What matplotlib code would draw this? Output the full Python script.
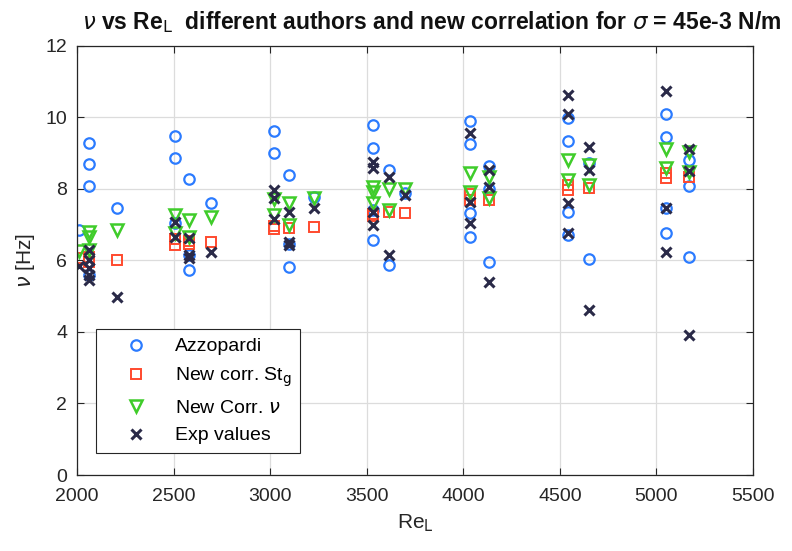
import matplotlib.pyplot as plt

# ========= DATA =========
# Azzopardi correlation
re_azz = [2010, 2060, 2060, 2060, 2060, 2205,
          2510, 2510, 2510, 2580, 2580, 2580, 2695,
          3020, 3020, 3097, 3097, 3097, 3227,
          3530, 3530, 3530, 3530, 3614, 3614, 3700,
          4034, 4034, 4034, 4034, 4134, 4134, 4134,
          4543, 4543, 4543, 4543, 4652, 4652,
          5049, 5049, 5049, 5049, 5170, 5170, 5170]
nu_azz = [6.85, 9.28, 8.68, 8.07, 5.59, 7.47,
          9.47, 8.85, 7.04, 8.26, 6.15, 5.73, 7.60,
          9.62, 9.01, 8.38, 6.45, 5.82, 7.77,
          9.78, 9.13, 7.40, 6.56, 8.52, 5.87, 7.87,
          9.90, 9.26, 7.31, 6.66, 8.63, 8.00, 5.96,
          9.98, 9.34, 7.35, 6.70, 8.71, 6.03,
          10.10, 9.45, 7.45, 6.77, 8.80, 8.07, 6.10]

# new correlation based on St_g
re_stg = [2010, 2060, 2060, 2205,
          2510, 2510, 2580, 2580, 2695,
          3020, 3020, 3097, 3227,
          3530, 3530, 3614, 3700,
          4034, 4034, 4134,
          4543, 4543, 4652,
          5049, 5049, 5170]
nu_stg = [6.05, 6.10, 5.95, 6.02,
          6.42, 6.60, 6.45, 6.55, 6.52,
          6.86, 6.95, 6.89, 6.94,
          7.23, 7.30, 7.35, 7.31,
          7.68, 7.85, 7.68,
          7.96, 8.10, 8.01,
          8.29, 8.45, 8.33]

# new correlation for nu
re_new = [2010, 2060, 2060, 2060, 2205,
          2510, 2510, 2580, 2580, 2695,
          3020, 3020, 3097, 3097, 3227,
          3530, 3530, 3530, 3614, 3614, 3700,
          4034, 4034, 4134, 4134,
          4543, 4543, 4652, 4652,
          5049, 5049, 5170, 5170]
nu_new = [6.25, 6.80, 6.65, 6.30, 6.85,
          7.26, 6.75, 7.12, 6.65, 7.22,
          7.71, 7.26, 7.59, 6.98, 7.73,
          8.04, 7.91, 7.59, 7.98, 7.40, 7.98,
          8.43, 7.91, 8.33, 7.73,
          8.80, 8.24, 8.66, 8.10,
          9.12, 8.57, 9.03, 8.47]

# experimental values
re_exp = [2010, 2060, 2060, 2060, 2060, 2060, 2205,
          2510, 2510, 2580, 2580, 2580, 2695,
          3020, 3020, 3020, 3097, 3097, 3097, 3227,
          3530, 3530, 3530, 3530, 3614, 3614, 3700,
          4034, 4034, 4034, 4134, 4134, 4134,
          4543, 4543, 4543, 4543, 4652, 4652, 4652,
          5049, 5049, 5049, 5170, 5170, 5170]
nu_exp = [5.85, 6.28, 6.00, 5.78, 5.59, 5.45, 4.98,
          7.08, 6.66, 6.61, 6.15, 6.06, 6.24,
          7.96, 7.75, 7.14, 7.35, 6.52, 6.42, 7.47,
          8.75, 8.57, 7.35, 6.98, 8.33, 6.15, 7.82,
          9.56, 7.64, 7.03, 8.52, 8.04, 5.40,
          10.61, 10.10, 7.59, 6.75, 9.17, 8.52, 4.61,
          10.73, 7.45, 6.24, 9.12, 8.50, 3.91]

x_ticks = [2000, 2500, 3000, 3500, 4000, 4500, 5000, 5500]
y_ticks = [0, 2, 4, 6, 8, 10, 12]

# ========= STYLE =========
plt.rcParams['font.family'] = ['Liberation Sans', 'DejaVu Sans']
plt.rcParams['mathtext.fontset'] = 'dejavusans'

c_azz = '#2b7bff'
c_stg = '#ff4a2e'
c_new = '#3fcc2a'
c_exp = '#2a2a48'
c_txt = '#262626'

# ========= PLOT =========
fig = plt.figure(figsize=(7.92, 5.51), dpi=100)
ax = fig.add_axes([0.0972, 0.1379, 0.8536, 0.7795])

ax.plot(re_azz, nu_azz, 'o', ls='none', mfc='none', mec=c_azz, ms=7.5, mew=1.6, label='Azzopardi')
ax.plot(re_stg, nu_stg, 's', ls='none', mfc='none', mec=c_stg, ms=7, mew=1.4, label='New corr. St$_\\mathrm{g}$')
ax.plot(re_new, nu_new, 'v', ls='none', mfc='none', mec=c_new, ms=9, mew=1.8, label='New Corr. $\\nu$')
ax.plot(re_exp, nu_exp, 'x', ls='none', color=c_exp, ms=7.5, mew=2.2, label='Exp values')

ax.set_xlim(2000, 5500)
ax.set_ylim(0, 12)
ax.set_xticks(x_ticks)
ax.set_yticks(y_ticks)
ax.grid(True, color='#dcdcdc', lw=0.9)
ax.set_axisbelow(True)
ax.tick_params(direction='in', top=True, right=True, length=5, labelsize=14, colors=c_txt)
ax.tick_params(axis='x', pad=9)
ax.tick_params(axis='y', pad=7)
for s in ax.spines.values():
    s.set_color(c_txt)
    s.set_linewidth(0.9)

ax.set_xlabel('Re$_\\mathrm{L}$', fontsize=15, color=c_txt, labelpad=6)
ax.set_ylabel('$\\nu$ [Hz]', fontsize=15, color=c_txt, labelpad=6)
ax.set_title('$\\nu$ vs Re$_\\mathrm{L}$  different authors and new correlation for $\\sigma$ = 45e-3 N/m',
             fontsize=16.5, fontweight='bold', color='#111111', pad=12, x=0.525)

leg = ax.legend(loc='upper left', bbox_to_anchor=(0.028, 0.34), borderaxespad=0, fontsize=14,
                fancybox=False, edgecolor=c_txt, framealpha=1,
                handletextpad=0.4, borderpad=0.45, labelspacing=0.52, handlelength=3.2)
leg.get_frame().set_linewidth(0.8)

plt.savefig('out.png', dpi=100)
